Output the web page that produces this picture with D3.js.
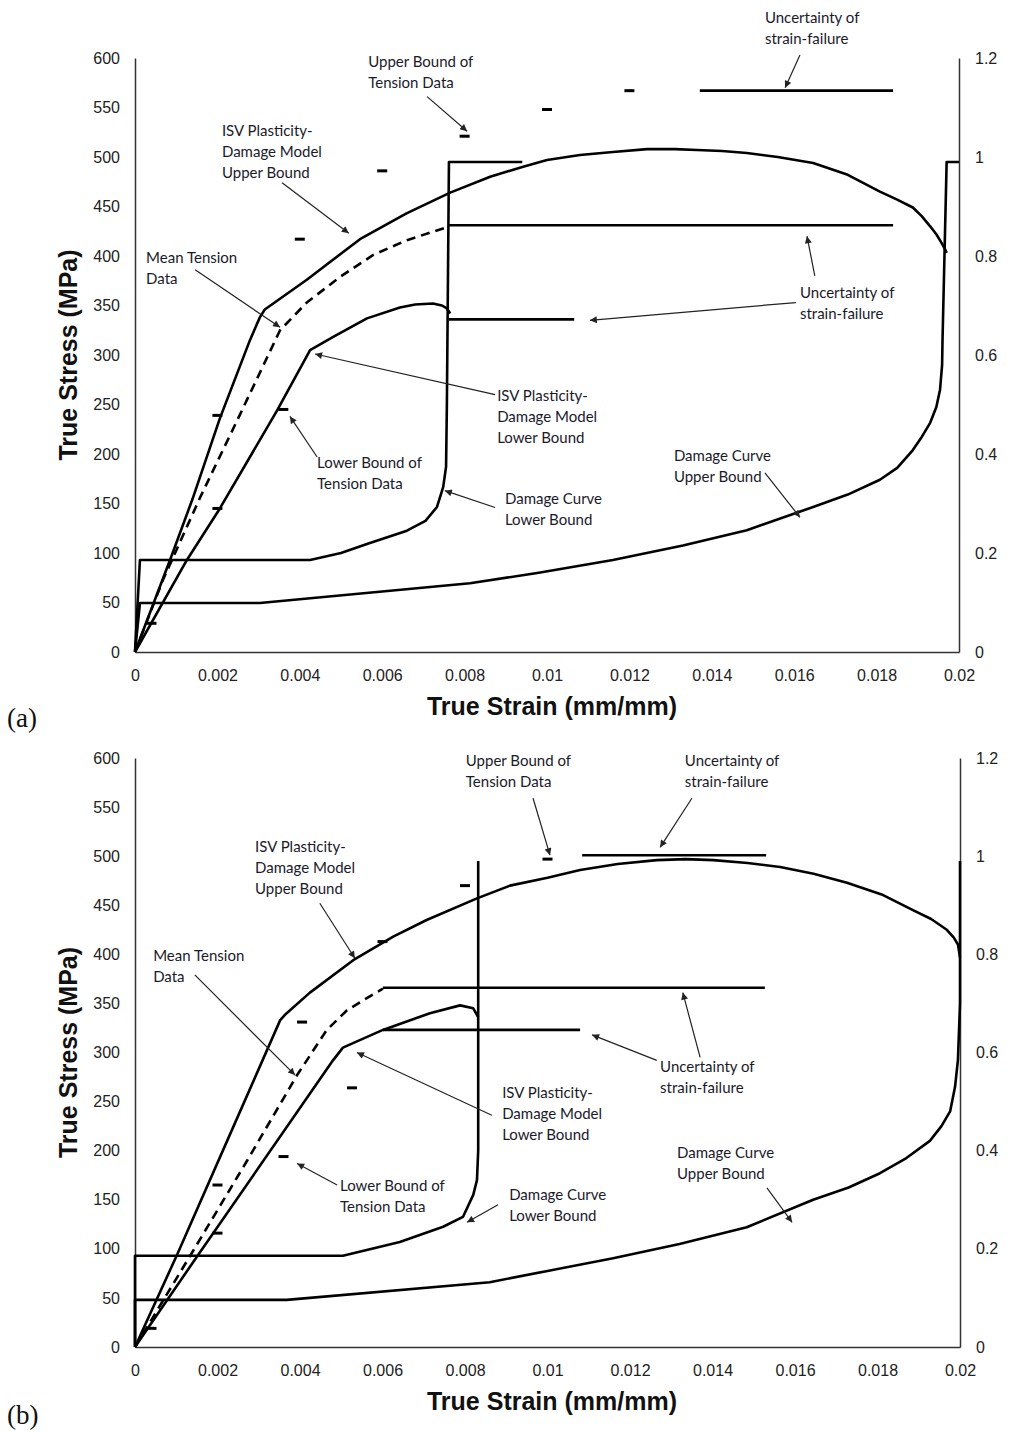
<!DOCTYPE html>
<html lang="en">
<head>
<meta charset="UTF-8">
<title>stress strain damage bounds</title>
<script src="https://cdn.jsdelivr.net/npm/d3@7"></script>
<style>
    body{margin:0;background:#fff;}
    .tick text{font-family:"Liberation Sans",Arial,sans-serif;font-size:16px;fill:#222;}
    .domain{stroke:#333;stroke-width:1.5;}
    .note{font-family:Lato,"Open Sans",sans-serif;font-size:15px;fill:#1a1a2a;}
    .ttl{font-family:"Liberation Sans",Arial,sans-serif;font-weight:bold;font-size:25px;fill:#111;}
    .tag{font-family:"Liberation Serif","Times New Roman",serif;font-size:27px;fill:#111;}
</style>
</head>
<body>
<svg id="fig" width="1011" height="1433"></svg>
<script>
    // ticks
    let strainTicks = [0,0.002,0.004,0.006,0.008,0.01,0.012,0.014,0.016,0.018,0.02]
    let strainTickLabels = ["0","0.002","0.004","0.006","0.008","0.01","0.012","0.014","0.016","0.018","0.02"]
    let stressTicks = [0,50,100,150,200,250,300,350,400,450,500,550,600]
    let damageTicks = [0,0.2,0.4,0.6,0.8,1,1.2]

    // ---------- panel (a) ----------  [strain, stress MPa]
    let isvUpperA = [[0,0],[0.00085,93],[0.0014,155],[0.00206,236],[0.00279,315],[0.00303,338],[0.00315,346],
        [0.00417,376],[0.00546,417],[0.00659,443],[0.00765,464],[0.00862,480],[0.0094,490],[0.01,497],
        [0.0108,502],[0.0116,505],[0.01243,508],[0.0131,508],[0.01364,507],[0.01425,506],
        [0.01485,504],[0.0156,500],[0.01646,494],[0.0173,482],[0.01808,465],[0.0185,457],[0.01888,449],
        [0.0191,440],[0.0193,430],[0.01945,422],[0.01958,413],[0.01966,407],[0.0197,403]]
    let meanA = [[0,0],[0.00068,73],[0.00158,156],[0.00255,240],[0.00352,325],[0.00417,353],[0.00498,379],
        [0.00578,401],[0.0066,416],[0.00757,429]]
    let isvLowerA = [[0,0],[0.00126,93],[0.00206,145],[0.00345,244],[0.00425,305],[0.0048,318],[0.00563,337],
        [0.00643,348],[0.0068,351],[0.00723,352],[0.00745,350],[0.00757,347],[0.00765,342]]
    // damage, right axis
    let damageLowerA = [[0,0],[0.00012,0.186],[0.00425,0.186],[0.005,0.2],[0.00563,0.218],[0.0066,0.245],
        [0.00705,0.265],[0.00733,0.293],[0.00748,0.333],[0.00755,0.374],[0.00757,0.5],[0.00762,0.99],[0.0094,0.99]]
    let damageUpperA = [[0,0],[0.00012,0.099],[0.00303,0.099],[0.00813,0.139],[0.0098,0.16],[0.0116,0.186],
        [0.0133,0.215],[0.01485,0.246],[0.01646,0.293],[0.0173,0.318],[0.01808,0.348],[0.0185,0.372],
        [0.01888,0.408],[0.0191,0.435],[0.0193,0.463],[0.01945,0.495],[0.01954,0.53],[0.01959,0.58],
        [0.0196,0.63],[0.0197,0.99],[0.02,0.99]]
    let upperTensionA = [[0.002,239],[0.004,417],[0.006,486],[0.008,521],[0.01,548],[0.012,567]]
    let lowerTensionA = [[0.0004,29],[0.002,145],[0.0036,245]]
    // [strain from, strain to, stress]
    let uncertaintyA = [[0.01371,0.0184,567],[0.00762,0.0184,431],[0.00762,0.01066,336]]

    // ---------- panel (b) ----------
    let isvUpperB = [[0,0],[0.00102,94],[0.00238,224],[0.00352,333],[0.00365,339],[0.00424,361],[0.00529,394],
        [0.00626,418],[0.00707,435],[0.00829,457],[0.00909,470],[0.01,478],[0.01079,486],[0.0117,492],[0.01265,496],
        [0.01335,497],[0.01402,496],[0.01485,493],[0.01564,489],[0.01645,482],[0.01726,473],[0.0181,461],
        [0.01886,445],[0.0193,436],[0.01968,425],[0.01985,417],[0.01995,410],[0.02,397]]
    let meanB = [[0,0],[0.00141,98],[0.00272,190],[0.00393,277],[0.00465,323],[0.00514,343],[0.0056,355],[0.00601,365]]
    let isvLowerB = [[0,0],[0.0015,92],[0.0048,292],[0.00504,305],[0.00601,323],[0.00715,340],[0.00788,348],
        [0.0082,345],[0.00832,336]]
    let damageLowerB = [[0,0],[0,0.186],[0.00504,0.186],[0.00642,0.214],[0.00747,0.245],[0.00795,0.265],
        [0.0082,0.31],[0.00829,0.34],[0.00832,0.4],[0.00832,0.99]]
    let damageUpperB = [[0,0],[0,0.096],[0.00368,0.096],[0.0086,0.132],[0.01,0.155],[0.01159,0.181],
        [0.0132,0.21],[0.01483,0.244],[0.01644,0.30],[0.0173,0.325],[0.01806,0.354],[0.0187,0.385],
        [0.01927,0.42],[0.01955,0.45],[0.01976,0.48],[0.01988,0.53],[0.01995,0.585],[0.02,0.7],[0.02,0.99]]
    let upperTensionB = [[0.002,165],[0.00405,331],[0.006,413],[0.008,470],[0.01,497]]
    let lowerTensionB = [[0.0004,19],[0.002,116],[0.0036,194],[0.00526,264]]
    let uncertaintyB = [[0.01084,0.0153,501],[0.00601,0.01527,366],[0.00601,0.01079,323]]

    // annotations: text lines, anchor and arrows in [strain, stress]
    let notesA = [
        {text:["Upper Bound of","Tension Data"], at:[0.00566,597], arrows:[[[0.00709,561],[0.00806,526]]]},
        {text:["ISV Plasticity-","Damage Model","Upper Bound"], at:[0.00211,527], arrows:[[[0.00357,474],[0.00519,423]]]},
        {text:["Mean Tension","Data"], at:[0.00027,399], arrows:[[[0.00146,386],[0.00352,328]]]},
        {text:["Uncertainty of","strain-failure"], at:[0.01529,641], arrows:[[[0.01614,603],[0.01578,570]]]},
        {text:["Uncertainty of","strain-failure"], at:[0.01614,364], arrows:[[[0.0165,380],[0.01631,420]],[[0.01604,353],[0.01104,335]]]},
        {text:["ISV Plasticity-","Damage Model","Lower Bound"], at:[0.00879,260], arrows:[[[0.00874,260],[0.00437,301]]]},
        {text:["Lower Bound of","Tension Data"], at:[0.00442,192], arrows:[[[0.00442,197],[0.00376,238]]]},
        {text:["Damage Curve","Lower Bound"], at:[0.00898,156], arrows:[[[0.00874,146],[0.00752,163]]]},
        {text:["Damage Curve","Upper Bound"], at:[0.01308,199], arrows:[[[0.01529,181],[0.01614,136]]]}
    ]
    let notesB = [
        {text:["Upper Bound of","Tension Data"], at:[0.00802,598], arrows:[[[0.00965,559],[0.01006,501]]]},
        {text:["Uncertainty of","strain-failure"], at:[0.01333,598], arrows:[[[0.0135,559],[0.01273,509]]]},
        {text:["ISV Plasticity-","Damage Model","Upper Bound"], at:[0.00291,510], arrows:[[[0.00448,452],[0.00533,396]]]},
        {text:["Mean Tension","Data"], at:[0.00044,399], arrows:[[[0.00145,379],[0.00388,277]]]},
        {text:["Uncertainty of","strain-failure"], at:[0.01273,286], arrows:[[[0.0137,295],[0.01328,361]],[[0.01265,292],[0.01108,318]]]},
        {text:["ISV Plasticity-","Damage Model","Lower Bound"], at:[0.0089,260], arrows:[[[0.00865,236],[0.00538,300]]]},
        {text:["Lower Bound of","Tension Data"], at:[0.00497,165], arrows:[[[0.0049,165],[0.00393,187]]]},
        {text:["Damage Curve","Lower Bound"], at:[0.00907,156], arrows:[[[0.0088,145],[0.00805,127]]]},
        {text:["Damage Curve","Upper Bound"], at:[0.01314,199], arrows:[[[0.01532,162],[0.01593,127]]]}
    ]

    let svg = d3.select("#fig")
    svg.append("defs").append("marker")
        .attr("id","head")
        .attr("viewBox","0 0 10 10")
        .attr("refX",10).attr("refY",5)
        .attr("markerWidth",9).attr("markerHeight",7)
        .attr("markerUnits","userSpaceOnUse")
        .attr("orient","auto")
        .append("path").attr("d","M0,0L10,5L0,10z").attr("fill","#222")

    function drawPanel(p){
        let g = svg.append("g")
        let x = d3.scaleLinear().domain([0,0.02]).range([p.left,p.right])
        let y = d3.scaleLinear().domain([0,600]).range([p.bottom,p.top])
        let y2 = d3.scaleLinear().domain([0,1.2]).range([p.bottom,p.top])

        // axes, no tick marks
        g.append("g").attr("transform",`translate(${p.left},0)`)
            .call(d3.axisLeft(y).tickValues(stressTicks).tickSize(0).tickPadding(15))
        g.append("g").attr("transform",`translate(${p.right},0)`)
            .call(d3.axisRight(y2).tickValues(damageTicks).tickSize(0).tickPadding(16).tickFormat(d=>String(d)))
        g.append("g").attr("transform",`translate(0,${p.bottom})`)
            .call(d3.axisBottom(x).tickValues(strainTicks).tickSize(0).tickPadding(18)
                .tickFormat((d,i)=>strainTickLabels[i]))

        let sLine = d3.line().x(d=>x(d[0])).y(d=>y(d[1]))
        let dLine = d3.line().x(d=>x(d[0])).y(d=>y2(d[1]))

        let curves = g.append("g").attr("fill","none").attr("stroke","#000").attr("stroke-width",2.6)
            .attr("stroke-linejoin","round")
        curves.append("path").attr("d",sLine(p.isvUpper))
        curves.append("path").attr("d",sLine(p.isvLower))
        curves.append("path").attr("d",sLine(p.mean)).attr("stroke-dasharray","9,6")
        curves.append("path").attr("d",dLine(p.damageLower))
        curves.append("path").attr("d",dLine(p.damageUpper))

        curves.selectAll(".unc").data(p.uncertainty).join("line")
            .attr("x1",d=>x(d[0])).attr("x2",d=>x(d[1]))
            .attr("y1",d=>y(d[2])).attr("y2",d=>y(d[2]))

        curves.selectAll(".tens").data(p.upperTension.concat(p.lowerTension)).join("line")
            .attr("x1",d=>x(d[0])-5).attr("x2",d=>x(d[0])+5)
            .attr("y1",d=>y(d[1])).attr("y2",d=>y(d[1]))
            .attr("stroke-width",3)

        // notes
        p.notes.forEach(function(n){
            let t = g.append("text").attr("class","note")
                .attr("x",x(n.at[0])).attr("y",y(n.at[1]))
            n.text.forEach(function(s,i){
                t.append("tspan").attr("x",x(n.at[0])).attr("y",y(n.at[1])+i*21)
                    .attr("dominant-baseline","central").text(s)
            })
            n.arrows.forEach(function(a){
                g.append("line")
                    .attr("x1",x(a[0][0])).attr("y1",y(a[0][1]))
                    .attr("x2",x(a[1][0])).attr("y2",y(a[1][1]))
                    .attr("stroke","#222").attr("stroke-width",1.2)
                    .attr("marker-end","url(#head)")
            })
        })

        g.append("text").attr("class","ttl")
            .attr("x",552).attr("y",p.xTitleY)
            .attr("text-anchor","middle").attr("dominant-baseline","central")
            .text("True Strain (mm/mm)")
        g.append("text").attr("class","ttl")
            .attr("transform",`translate(68,${(p.top+p.bottom)/2})rotate(-90)`)
            .attr("text-anchor","middle").attr("dominant-baseline","central")
            .text("True Stress (MPa)")
        g.append("text").attr("class","tag")
            .attr("x",7).attr("y",p.tagY).attr("dominant-baseline","central")
            .text(p.tag)
    }

    drawPanel({left:135,right:959,top:58,bottom:652,xTitleY:706,tagY:718,tag:"(a)",
        isvUpper:isvUpperA,mean:meanA,isvLower:isvLowerA,damageLower:damageLowerA,damageUpper:damageUpperA,
        upperTension:upperTensionA,lowerTension:lowerTensionA,uncertainty:uncertaintyA,notes:notesA})
    drawPanel({left:135,right:960,top:758,bottom:1347,xTitleY:1401,tagY:1415,tag:"(b)",
        isvUpper:isvUpperB,mean:meanB,isvLower:isvLowerB,damageLower:damageLowerB,damageUpper:damageUpperB,
        upperTension:upperTensionB,lowerTension:lowerTensionB,uncertainty:uncertaintyB,notes:notesB})
</script>
</body>
</html>
